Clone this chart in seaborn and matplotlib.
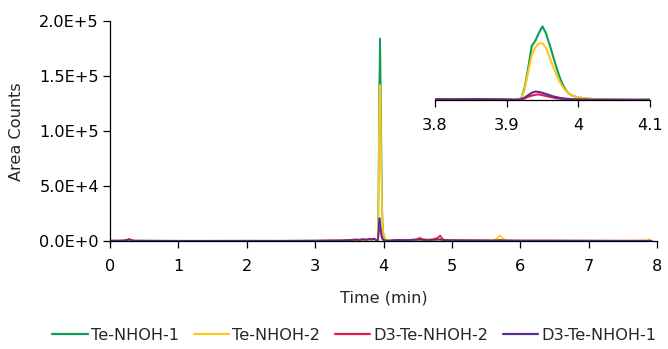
import numpy as np
import pandas as pd
import matplotlib
matplotlib.use("Agg")
import matplotlib.pyplot as plt
import seaborn as sns

# ---- data (Area counts in thousands) ----
time = [0.00, 0.10, 0.20, 0.25, 0.28, 0.31, 0.35, 0.50, 1.00, 1.50,
        2.00, 2.50, 3.00, 3.40, 3.50, 3.60, 3.65, 3.70, 3.75, 3.80,
        3.83, 3.86, 3.88, 3.90, 3.910, 3.915, 3.920, 3.925, 3.930, 3.935,
        3.940, 3.945, 3.950, 3.955, 3.960, 3.965, 3.970, 3.975, 3.980, 3.985,
        3.990, 4.000, 4.010, 4.020, 4.030, 4.050, 4.080, 4.100, 4.200, 4.300,
        4.400, 4.480, 4.530, 4.580, 4.650, 4.720, 4.780, 4.830, 4.860, 4.900,
        5.000, 5.200, 5.400, 5.600, 5.660, 5.700, 5.740, 5.800, 6.000, 6.500,
        7.000, 7.500, 7.850, 7.880, 7.920]

te_nhoh_1 = [0.3, 0.2, 0.3, 0.3, 0.4, 0.3, 0.2, 0.2, 0.2, 0.2,
             0.2, 0.2, 0.3, 0.5, 0.8, 1.0, 0.8, 1.2, 1.0, 1.5,
             1.2, 1.8, 1.0, 0.8, 0.6, 0.8, 3.0, 30.0, 80.0, 135.0,
             148.0, 168.0, 184.0, 166.0, 138.0, 108.0, 78.0, 52.0, 32.0, 19.0,
             12.0, 6.0, 4.0, 2.5, 1.5, 0.8, 0.5, 0.5, 0.8, 0.6,
             0.8, 1.0, 1.2, 0.9, 0.8, 1.0, 1.2, 1.2, 0.9, 0.7,
             0.6, 0.5, 0.4, 0.4, 0.5, 0.6, 0.5, 0.4, 0.3, 0.3,
             0.2, 0.2, 0.2, 0.2, 0.2]

te_nhoh_2 = [0.3, 0.2, 0.3, 0.4, 0.5, 0.4, 0.3, 0.2, 0.2, 0.2,
             0.2, 0.2, 0.3, 0.5, 0.9, 1.2, 1.0, 1.4, 1.1, 1.8,
             1.5, 2.0, 1.2, 1.0, 0.6, 0.8, 3.0, 25.0, 70.0, 112.0,
             132.0, 141.0, 142.0, 130.0, 106.0, 82.0, 60.0, 42.0, 28.0, 19.0,
             12.0, 6.5, 4.0, 2.5, 1.5, 0.8, 0.5, 0.5, 1.0, 0.8,
             1.0, 1.5, 3.5, 1.5, 1.0, 1.8, 3.0, 2.5, 1.2, 0.8,
             0.7, 0.6, 0.5, 0.6, 2.5, 5.0, 2.5, 0.5, 0.4, 0.3,
             0.3, 0.3, 0.5, 1.5, 0.4]

d3_te_nhoh_2 = [0.3, 0.4, 0.5, 1.2, 2.0, 1.0, 0.4, 0.3, 0.2, 0.2,
                0.3, 0.2, 0.3, 0.6, 1.0, 1.5, 1.2, 1.8, 1.3, 2.2,
                1.6, 2.4, 1.5, 1.0, 0.6, 0.6, 1.5, 4.0, 8.0, 11.0,
                13.0, 14.0, 12.0, 10.0, 8.0, 6.0, 4.0, 3.0, 2.0, 1.5,
                1.0, 0.8, 0.6, 0.5, 0.4, 0.4, 0.3, 0.4, 1.0, 0.8,
                1.2, 1.5, 2.5, 1.5, 1.2, 1.5, 2.5, 5.0, 2.0, 1.0,
                0.8, 0.7, 0.6, 0.5, 0.6, 0.8, 0.6, 0.5, 0.4, 0.4,
                0.3, 0.3, 0.3, 0.3, 0.3]

d3_te_nhoh_1 = [0.3, 0.3, 0.4, 0.8, 1.2, 0.7, 0.3, 0.3, 0.2, 0.2,
                0.2, 0.2, 0.3, 0.5, 0.8, 1.2, 1.0, 1.5, 1.1, 1.6,
                1.3, 1.8, 1.2, 0.9, 0.6, 0.7, 2.0, 6.0, 12.0, 18.0,
                21.0, 20.0, 18.0, 15.0, 12.0, 9.0, 7.0, 5.0, 4.0, 3.0,
                2.0, 1.5, 1.0, 0.6, 0.5, 0.4, 0.3, 0.4, 0.9, 0.7,
                1.0, 1.2, 1.5, 1.1, 0.9, 1.1, 1.4, 1.5, 1.0, 0.8,
                0.6, 0.5, 0.5, 0.4, 0.5, 0.6, 0.5, 0.4, 0.3, 0.3,
                0.3, 0.2, 0.2, 0.2, 0.2]

series_names = ["Te-NHOH-1", "Te-NHOH-2", "D3-Te-NHOH-2", "D3-Te-NHOH-1"]
series_values = [te_nhoh_1, te_nhoh_2, d3_te_nhoh_2, d3_te_nhoh_1]
colors = ["#0C9D56", "#FFC819", "#E8184D", "#5B2E92"]

y_ticks = [0, 50000, 100000, 150000, 200000]
y_tick_labels = ["0.0E+0", "5.0E+4", "1.0E+5", "1.5E+5", "2.0E+5"]
x_ticks = [0, 1, 2, 3, 4, 5, 6, 7, 8]
inset_ticks = [3.8, 3.9, 4.0, 4.1]
inset_tick_labels = ["3.8", "3.9", "4", "4.1"]

# ---- build long table ----
frames = []
for name, vals in zip(series_names, series_values):
    frames.append(pd.DataFrame({"Time (min)": time,
                                "Area Counts": np.asarray(vals) * 1000.0,
                                "Series": name}))
df = pd.concat(frames, ignore_index=True)

sns.set_style("ticks")
plt.rcParams["font.family"] = ["DejaVu Sans"]
FS = 11.6

W, H = 668, 349
fig = plt.figure(figsize=(W / 100, H / 100), dpi=100)

# main axes: x 110..657 px, y 21..243 px
ax = fig.add_axes([110 / W, 1 - 243 / H, (657 - 110) / W, (243 - 21) / H])
sns.lineplot(data=df, x="Time (min)", y="Area Counts", hue="Series",
             hue_order=series_names, palette=colors, linewidth=1.2,
             ax=ax, estimator=None, sort=False)
ax.set_xlim(0, 8)
ax.set_ylim(-1800, 200000)
ax.spines["right"].set_visible(False)
ax.spines["top"].set_visible(False)
ax.spines["bottom"].set_position(("data", 0))
for s in ["left", "bottom"]:
    ax.spines[s].set_linewidth(0.9)
    ax.spines[s].set_color("black")
ax.set_yticks(y_ticks)
ax.set_yticklabels(y_tick_labels)
ax.set_xticks(x_ticks)
ax.tick_params(axis="both", direction="out", length=5, width=0.9,
               labelsize=FS, colors="black", pad=3)
ax.tick_params(axis="x", pad=8)
ax.set_xlabel("Time (min)", fontsize=FS, labelpad=12)
ax.set_ylabel("Area Counts", fontsize=FS, labelpad=11)

sns.move_legend(ax, "center", bbox_to_anchor=(354.5 / W, 1 - 335 / H),
                bbox_transform=fig.transFigure, ncol=4, frameon=False,
                title=None, fontsize=FS, handlelength=2.2,
                handletextpad=0.2, columnspacing=0.9)
for line in ax.get_legend().get_lines():
    line.set_linewidth(1.6)

# inset: x 435..650 px, baseline at 100 px
ins = fig.add_axes([435 / W, 1 - 101 / H, (650 - 435) / W, 81 / H])
sns.lineplot(data=df, x="Time (min)", y="Area Counts", hue="Series",
             hue_order=series_names, palette=colors, linewidth=1.5,
             ax=ins, estimator=None, sort=False, legend=False)
ins.set_xlim(3.8, 4.1)
ins.set_ylim(-2500, 200000)
ins.patch.set_alpha(0)
for s in ["left", "right", "top"]:
    ins.spines[s].set_visible(False)
ins.spines["bottom"].set_position(("data", 0))
ins.spines["bottom"].set_linewidth(0.9)
ins.spines["bottom"].set_color("black")
ins.set_yticks([])
ins.set_xticks(inset_ticks)
ins.set_xticklabels(inset_tick_labels)
ins.tick_params(axis="x", direction="out", length=5, width=0.9,
                labelsize=FS, colors="black", pad=8)
ins.set_xlabel("")
ins.set_ylabel("")

fig.savefig("out.png", dpi=100)
